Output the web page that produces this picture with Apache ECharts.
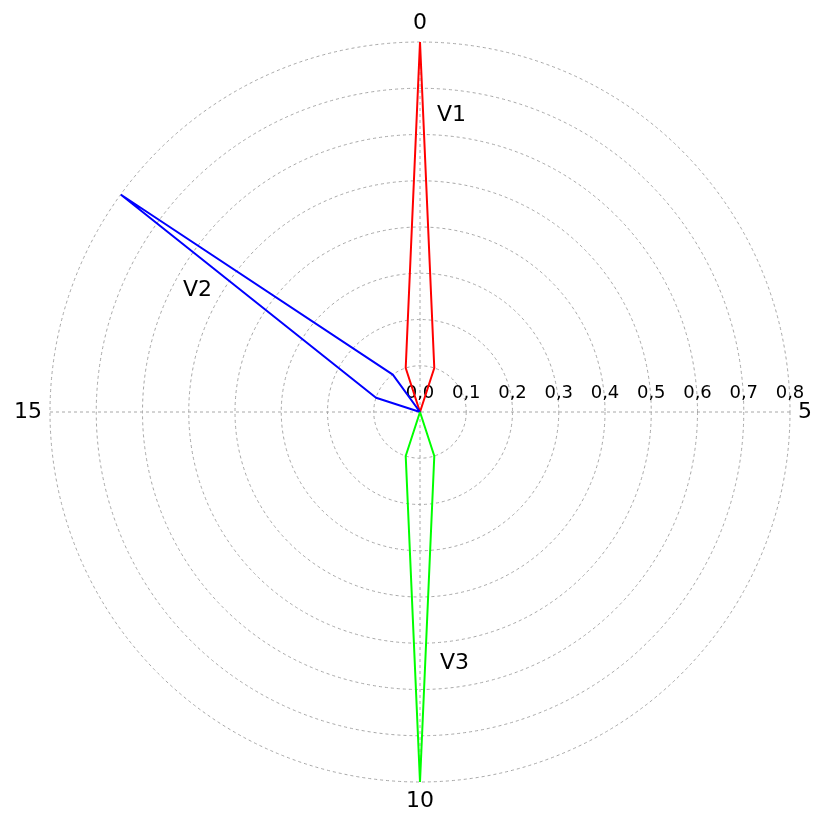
<!DOCTYPE html>
<html>
<head>
    <meta charset="UTF-8">
    <title>ECharts</title>
    <script src="https://cdn.jsdelivr.net/npm/echarts@6/dist/echarts.min.js"></script>
    <style>
        html, body { margin: 0; padding: 0; background: #fff; }
        #main { width: 830px; height: 817px; }
    </style>
</head>
<body>
    <div id="main"></div>
    <script type="text/javascript">
        // angle positions (0..19), one value per position for every series
        var angles = [0, 1, 2, 3, 4, 5, 6, 7, 8, 9, 10, 11, 12, 13, 14, 15, 16, 17, 18, 19];
        var v1 = [0.8, 0.1, 0, 0, 0, 0, 0, 0, 0, 0, 0, 0, 0, 0, 0, 0, 0, 0, 0, 0.1];
        var v2 = [0, 0, 0, 0, 0, 0, 0, 0, 0, 0, 0, 0, 0, 0, 0, 0, 0.1, 0.8, 0.1, 0];
        var v3 = [0, 0, 0, 0, 0, 0, 0, 0, 0, 0.1, 0.8, 0.1, 0, 0, 0, 0, 0, 0, 0, 0];
        var angleTicks = [0, 5, 10, 15];

        function closed(vals) {
            var pts = angles.map(function (a, i) { return [vals[i], a]; });
            pts.push(pts[0]);
            return pts;
        }

        var grid = { color: '#a8a8a8', type: [3, 3], width: 1 };
        var font = 'DejaVu Sans';

        var myChart = echarts.init(document.getElementById('main'));
        var option = {
            backgroundColor: '#fff',
            animation: false,
            polar: [
                { center: [420, 412], radius: 370 },
                { center: [420, 412], radius: 370 }
            ],
            angleAxis: [{
                polarIndex: 0,
                type: 'value', min: 0, max: 20, interval: 5,
                startAngle: 90, clockwise: true,
                axisLine: { show: false },
                axisTick: { show: false },
                splitLine: { show: true, lineStyle: grid },
                axisLabel: {
                    margin: 8, fontSize: 22, color: '#000', fontFamily: font,
                    formatter: function (v) { return angleTicks.indexOf(v) >= 0 ? String(v) : ''; }
                }
            }, {
                polarIndex: 1,
                type: 'value', min: 0, max: 20,
                startAngle: 0,
                axisLine: { show: false }, axisTick: { show: false },
                axisLabel: { show: false }, splitLine: { show: false }
            }],
            radiusAxis: [{
                polarIndex: 0,
                type: 'value', min: 0, max: 0.8, interval: 0.1,
                axisLine: { show: false }, axisTick: { show: false },
                axisLabel: { show: false },
                splitLine: { show: true, lineStyle: grid }
            }, {
                polarIndex: 1,
                type: 'value', min: 0, max: 0.8, interval: 0.1,
                axisLine: { show: false }, axisTick: { show: false },
                splitLine: { show: false },
                axisLabel: {
                    margin: 10, fontSize: 18, color: '#000', fontFamily: font,
                    formatter: function (v) { return v.toFixed(1).replace('.', ','); }
                }
            }],
            graphic: [
                { type: 'text', left: 437, top: 104, style: { text: 'V1', fontSize: 22, fontFamily: font, fill: '#000' } },
                { type: 'text', left: 183, top: 279, style: { text: 'V2', fontSize: 22, fontFamily: font, fill: '#000' } },
                { type: 'text', left: 440, top: 652, style: { text: 'V3', fontSize: 22, fontFamily: font, fill: '#000' } }
            ],
            series: [
                { name: 'V1', type: 'line', coordinateSystem: 'polar', polarIndex: 0, symbol: 'none',
                  lineStyle: { color: '#ff0000', width: 2 }, data: closed(v1) },
                { name: 'V2', type: 'line', coordinateSystem: 'polar', polarIndex: 0, symbol: 'none',
                  lineStyle: { color: '#0000ff', width: 2 }, data: closed(v2) },
                { name: 'V3', type: 'line', coordinateSystem: 'polar', polarIndex: 0, symbol: 'none',
                  lineStyle: { color: '#00ff00', width: 2 }, data: closed(v3) }
            ]
        };
        myChart.setOption(option);
    </script>
</body>
</html>
